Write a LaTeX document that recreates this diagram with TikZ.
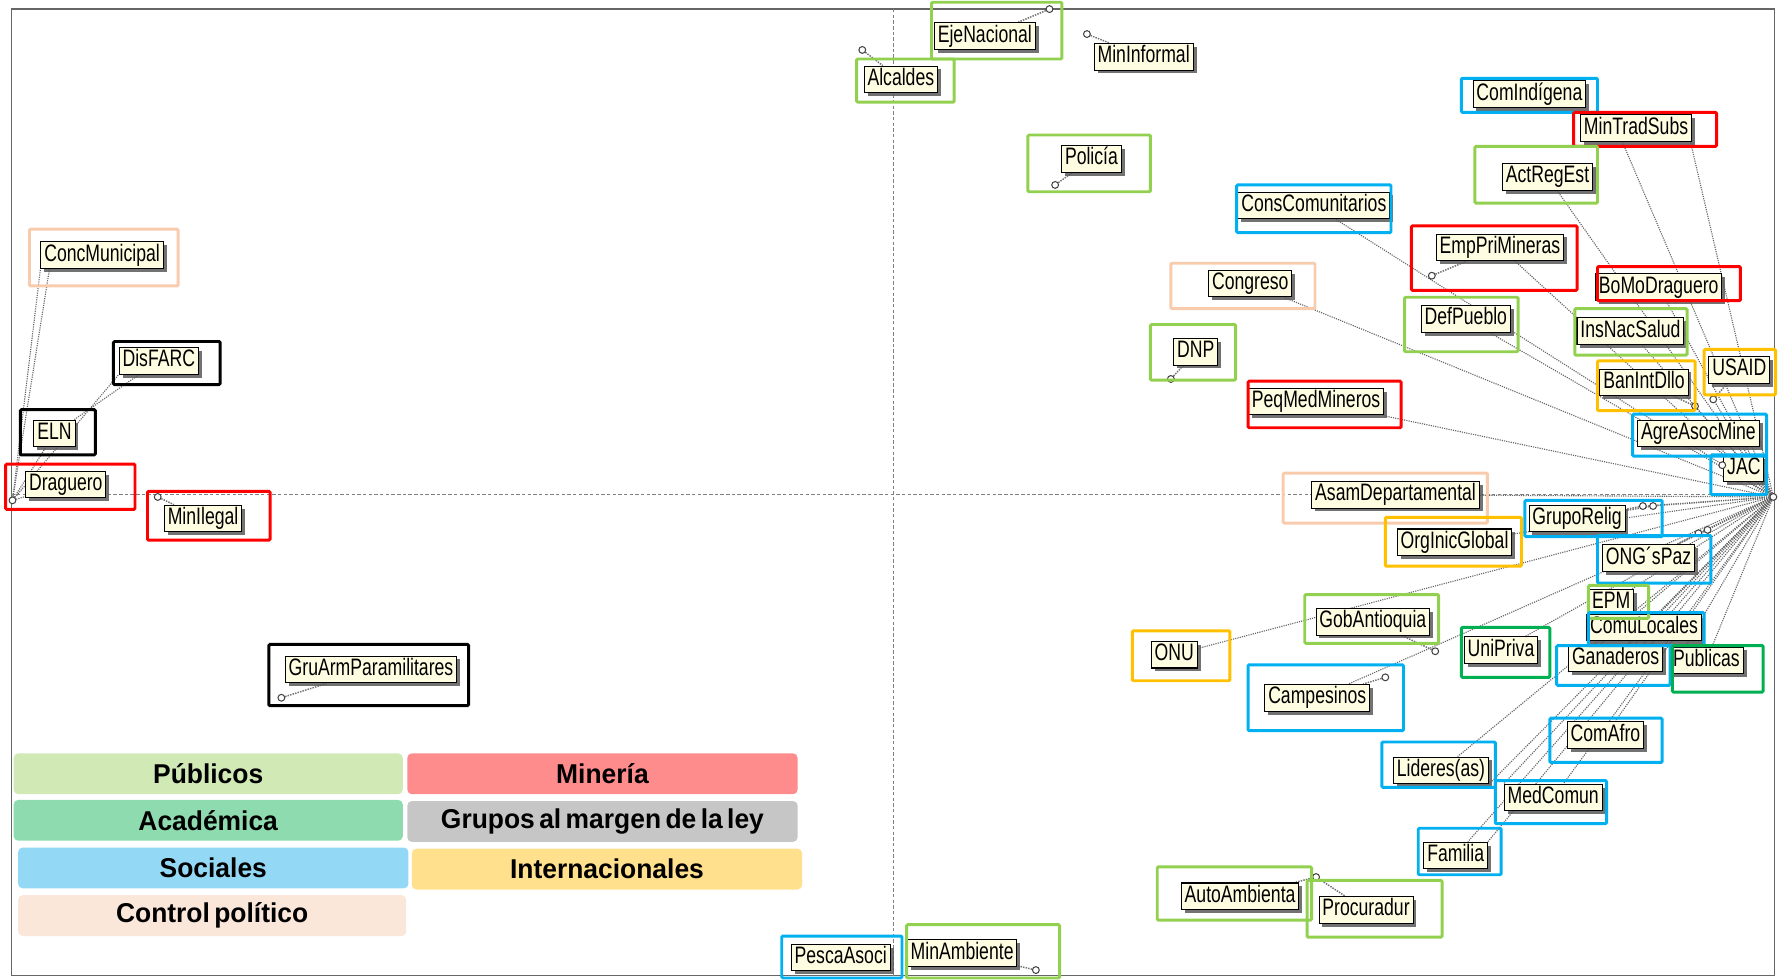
\documentclass[tikz,border=0pt]{standalone}
\usepackage{fontspec}
\setmainfont{Liberation Sans}
\newfontfamily\labfont[FakeStretch=0.74]{Liberation Sans}
\newfontfamily\legfont[FakeStretch=0.97,WordSpace=0.6]{Liberation Sans}
\usetikzlibrary{shadows}
\definecolor{gre}{HTML}{92D050}
\definecolor{rd}{HTML}{FF0000}
\definecolor{blu}{HTML}{00B0F0}
\definecolor{pea}{HTML}{F8CBAD}
\definecolor{gold}{HTML}{FFC000}
\definecolor{dgr}{HTML}{00B050}
\definecolor{cream}{HTML}{FFFDE1}
\definecolor{lgPub}{HTML}{D0E9B5}
\definecolor{lgMin}{HTML}{FF8C8C}
\definecolor{lgAca}{HTML}{8FDBB0}
\definecolor{lgGru}{HTML}{C6C6C6}
\definecolor{lgSoc}{HTML}{93D9F6}
\definecolor{lgInt}{HTML}{FFE08D}
\definecolor{lgCon}{HTML}{FBE6DA}
\pgfdeclarelayer{bg}
\pgfsetlayers{bg,main}
\tikzset{
  lab/.style={draw=black, line width=0.9pt, fill=cream, font=\labfont\fontsize{21}{23}\selectfont,
    inner xsep=3pt, inner ysep=2pt, text height=15pt, text depth=4.5pt,
    drop shadow={shadow xshift=3pt, shadow yshift=-3pt, fill=black!65, opacity=0.85}},
  cbox/.style={line width=2.6pt, rounded corners=1pt},
  pt/.style={circle, draw=black!75, fill=white, line width=0.9pt, minimum size=6pt, inner sep=0pt},
  con/.style={draw=black!60, densely dotted, line width=1pt},
  lead/.style={draw=black!55, densely dotted, line width=1.3pt},
  axis/.style={draw=black!50, densely dashed, line width=0.7pt},
  leg/.style={rounded corners=4pt, draw=none},
  legt/.style={font=\legfont\bfseries\fontsize{24}{26}\selectfont}
}
\begin{document}
\begin{tikzpicture}[x=1pt,y=-1pt]
\useasboundingbox (0,0) rectangle (1568,863);
% frame and axes
\draw[black!60, line width=1.3pt] (10,8) rectangle (1564,860);
\draw[axis] (787,8) -- (787,860);
\draw[axis] (10,436) -- (1564,436);
% hubs
\node[pt] (hubR) at (1563,438) {};
\node[pt] (hubL) at (11,441) {};
% labels
\node[lab] (ejen) at (868,32) {EjeNacional};
\node[lab] (alc) at (794,70) {Alcaldes};
\node[lab] (minf) at (1008,50) {MinInformal};
\node[lab] (comind) at (1348,83) {ComIndígena};
\node[lab] (mints) at (1442,113) {MinTradSubs};
\node[lab] (pol) at (962,140) {Policía};
\node[lab] (actreg) at (1364,156) {ActRegEst};
\node[lab] (cons) at (1158,181) {ConsComunitarios};
\node[lab] (emppri) at (1322,218) {EmpPriMineras};
\node[lab] (concm) at (90,225) {ConcMunicipal};
\node[lab] (cong) at (1102,250) {Congreso};
\node[lab] (bomo) at (1462,253) {BoMoDraguero};
\node[lab] (defp) at (1292,281) {DefPueblo};
\node[lab] (insnac) at (1437,292) {InsNacSalud};
\node[lab] (dnp) at (1054,310) {DNP};
\node[lab] (disf) at (140,318) {DisFARC};
\node[lab] (usaid) at (1533,326) {USAID};
\node[lab] (banint) at (1449,337) {BanIntDllo};
\node[lab] (peqmed) at (1160,354) {PeqMedMineros};
\node[lab] (eln) at (48,382) {ELN};
\node[lab] (agre) at (1497,382) {AgreAsocMine};
\node[lab] (jac) at (1537,413) {JAC};
\node[lab] (drag) at (58,427) {Draguero};
\node[lab] (minil) at (179,457) {MinIlegal};
\node[lab] (asam) at (1230,436) {AsamDepartamental};
\node[lab] (grupo) at (1390,457) {GrupoRelig};
\node[lab] (orgin) at (1282,478) {OrgInicGlobal};
\node[lab] (ongs) at (1453,492) {ONG´sPaz};
\node[lab] (epm) at (1420,531) {EPM};
\node[lab] (comu) at (1449,553) {ComuLocales};
\node[lab] (gobant) at (1210,548) {GobAntioquia};
\node[lab] (unip) at (1323,573) {UniPriva};
\node[lab] (onu) at (1035,577) {ONU};
\node[lab] (ganad) at (1424,580) {Ganaderos};
\node[lab] (publ) at (1504,582) {Publicas};
\node[lab] (gruarm) at (327,590) {GruArmParamilitares};
\node[lab] (camp) at (1161,615) {Campesinos};
\node[lab] (comafro) at (1415,648) {ComAfro};
\node[lab] (lider) at (1270,679) {Lideres(as)};
\node[lab] (medc) at (1369,703) {MedComun};
\node[lab] (fam) at (1283,754) {Familia};
\node[lab] (autoa) at (1093,790) {AutoAmbienta};
\node[lab] (procu) at (1204,802) {Procuradur};
\node[lab] (pesca) at (741,844) {PescaAsoci};
\node[lab] (minamb) at (848,840) {MinAmbiente};
% point markers
\node[pt] (pEje) at (925,8) {};
\node[pt] (pAlc) at (760,44) {};
\node[pt] (pMinf) at (958,30) {};
\node[pt] (pPol) at (930,163) {};
\node[pt] (pEmp) at (1262,243) {};
\node[pt] (pDnp) at (1032,334) {};
\node[pt] (pMinil) at (139,438) {};
\node[pt] (pGru) at (248,615) {};
\node[pt] (pGob) at (1265,574) {};
\node[pt] (pCamp) at (1221,597) {};
\node[pt] (pProc) at (1160,773) {};
\node[pt] (pMinamb) at (913,855) {};
\node[pt] (pJac) at (1518,410) {};
\node[pt] (pBan) at (1494,358) {};
\node[pt] (pUsa) at (1510,352) {};
\node[pt] (pGr1) at (1448,446) {};
\node[pt] (pGr2) at (1457,446) {};
\node[pt] (pOn1) at (1497,470) {};
\node[pt] (pOn2) at (1505,467) {};
\begin{pgfonlayer}{bg}
% leaders
\draw[lead] (pEje) -- (ejen);
\draw[lead] (pAlc) -- (alc);
\draw[lead] (pMinf) -- (minf);
\draw[lead] (pPol) -- (pol);
\draw[lead] (pEmp) -- (emppri);
\draw[lead] (pDnp) -- (dnp);
\draw[lead] (pMinil) -- (minil);
\draw[lead] (pGru) -- (gruarm);
\draw[lead] (pGob) -- (gobant);
\draw[lead] (pCamp) -- (camp);
\draw[lead] (pProc) -- (procu);
\draw[lead] (pProc) -- (autoa);
\draw[lead] (pMinamb) -- (minamb);
\draw[lead] (pJac) -- (jac);
\draw[lead] (pBan) -- (banint);
\draw[lead] (pUsa) -- (usaid);
\draw[lead] (pGr1) -- (grupo);
\draw[lead] (pGr2) -- (grupo);
\draw[lead] (pOn1) -- (ongs);
\draw[lead] (pOn2) -- (ongs);
% left hub
\draw[con] (hubL) -- (concm.south west);
\draw[con] (hubL) -- ([xshift=8pt]concm.south west);
\draw[con] (hubL) -- (eln);
\draw[con] (hubL) -- (drag);
\draw[con] (hubL) -- (disf.south west);
\draw[con] (eln) -- (disf);
% right hub
\draw[con] (hubR) -- ([xshift=-12pt]mints.south);
\draw[con] (hubR) -- ([xshift=48pt]mints.south);
\foreach \n in {actreg,cons,emppri,cong,defp,insnac,bomo,agre,peqmed,asam,orgin,epm,comu,unip,ganad,publ,comafro,lider,medc,fam,onu,camp}
  \draw[con] (hubR) -- (\n);
\foreach \n in {pJac,pBan,pUsa,pGr1,pGr2,pOn1,pOn2}
  \draw[con] (hubR) -- (\n);
\draw[con] (hubR) -- (lider.south east);
\draw[con] (hubR) -- (medc.north west);
\draw[con] (hubR) -- (fam.north east);
\draw[con] (hubR) -- (ganad.south west);
\draw[con] (hubR) -- (publ.south west);
\end{pgfonlayer}
% coloured frames
\draw[cbox,gre] (821,2) rectangle (936,52);
\draw[cbox,gre] (755,52) rectangle (841,90);
\draw[cbox,blu] (1288,69) rectangle (1408,99);
\draw[cbox,rd] (1387,99) rectangle (1513,129);
\draw[cbox,gre] (906,119) rectangle (1014,169);
\draw[cbox,gre] (1300,129) rectangle (1408,179);
\draw[cbox,blu] (1090,163) rectangle (1226,205);
\draw[cbox,rd] (1244,199) rectangle (1390,256);
\draw[cbox,pea] (26,202) rectangle (157,252);
\draw[cbox,pea] (1032,232) rectangle (1159,272);
\draw[cbox,rd] (1408,235) rectangle (1534,265);
\draw[cbox,gre] (1238,262) rectangle (1338,310);
\draw[cbox,gre] (1388,272) rectangle (1487,313);
\draw[cbox,gre] (1014,286) rectangle (1089,335);
\draw[cbox,black] (100,301) rectangle (194,339);
\draw[cbox,gold] (1502,308) rectangle (1565,348);
\draw[cbox,gold] (1408,318) rectangle (1494,362);
\draw[cbox,rd] (1100,336) rectangle (1235,377);
\draw[cbox,black] (18,361) rectangle (84,401);
\draw[cbox,blu] (1439,365) rectangle (1557,402);
\draw[cbox,blu] (1508,401) rectangle (1557,436);
\draw[cbox,rd] (5,409) rectangle (119,449);
\draw[cbox,rd] (130,433) rectangle (238,476);
\draw[cbox,pea] (1131,417) rectangle (1311,461);
\draw[cbox,blu] (1344,441) rectangle (1465,473);
\draw[cbox,gold] (1221,456) rectangle (1341,499);
\draw[cbox,blu] (1408,472) rectangle (1508,514);
\draw[cbox,gre] (1400,516) rectangle (1453,545);
\draw[cbox,blu] (1400,540) rectangle (1502,569);
\draw[cbox,gre] (1150,524) rectangle (1268,567);
\draw[cbox,dgr] (1288,553) rectangle (1366,597);
\draw[cbox,gold] (998,556) rectangle (1084,600);
\draw[cbox,blu] (1372,569) rectangle (1472,604);
\draw[cbox,dgr] (1474,569) rectangle (1554,610);
\draw[cbox,black] (237,568) rectangle (413,622);
\draw[cbox,blu] (1100,586) rectangle (1237,644);
\draw[cbox,blu] (1366,633) rectangle (1465,672);
\draw[cbox,blu] (1218,654) rectangle (1318,694);
\draw[cbox,blu] (1318,688) rectangle (1416,726);
\draw[cbox,blu] (1250,730) rectangle (1323,771);
\draw[cbox,gre] (1020,764) rectangle (1156,811);
\draw[cbox,gre] (1152,776) rectangle (1271,826);
\draw[cbox,blu] (689,825) rectangle (795,862);
\draw[cbox,gre] (799,815) rectangle (934,862);
% legend
\node[leg,fill=lgPub,minimum width=343pt,minimum height=36pt,legt] (lPub) at (183.5,682) {Públicos};
\node[leg,fill=lgMin,minimum width=344pt,minimum height=36pt,legt] (lMin) at (531,682) {Minería};
\node[leg,fill=lgAca,minimum width=343pt,minimum height=36pt,legt] (lAca) at (183.5,723) {Académica};
\node[leg,fill=lgGru,minimum width=344pt,minimum height=36pt,legt] (lGru) at (531,724) {Grupos al margen de la ley};
\node[leg,fill=lgSoc,minimum width=344pt,minimum height=36pt,legt] (lSoc) at (188,765) {Sociales};
\node[leg,fill=lgInt,minimum width=344pt,minimum height=36pt,legt] (lInt) at (535,766) {Internacionales};
\node[leg,fill=lgCon,minimum width=342pt,minimum height=36pt,legt] (lCon) at (187,807) {Control político};
\end{tikzpicture}
\end{document}
